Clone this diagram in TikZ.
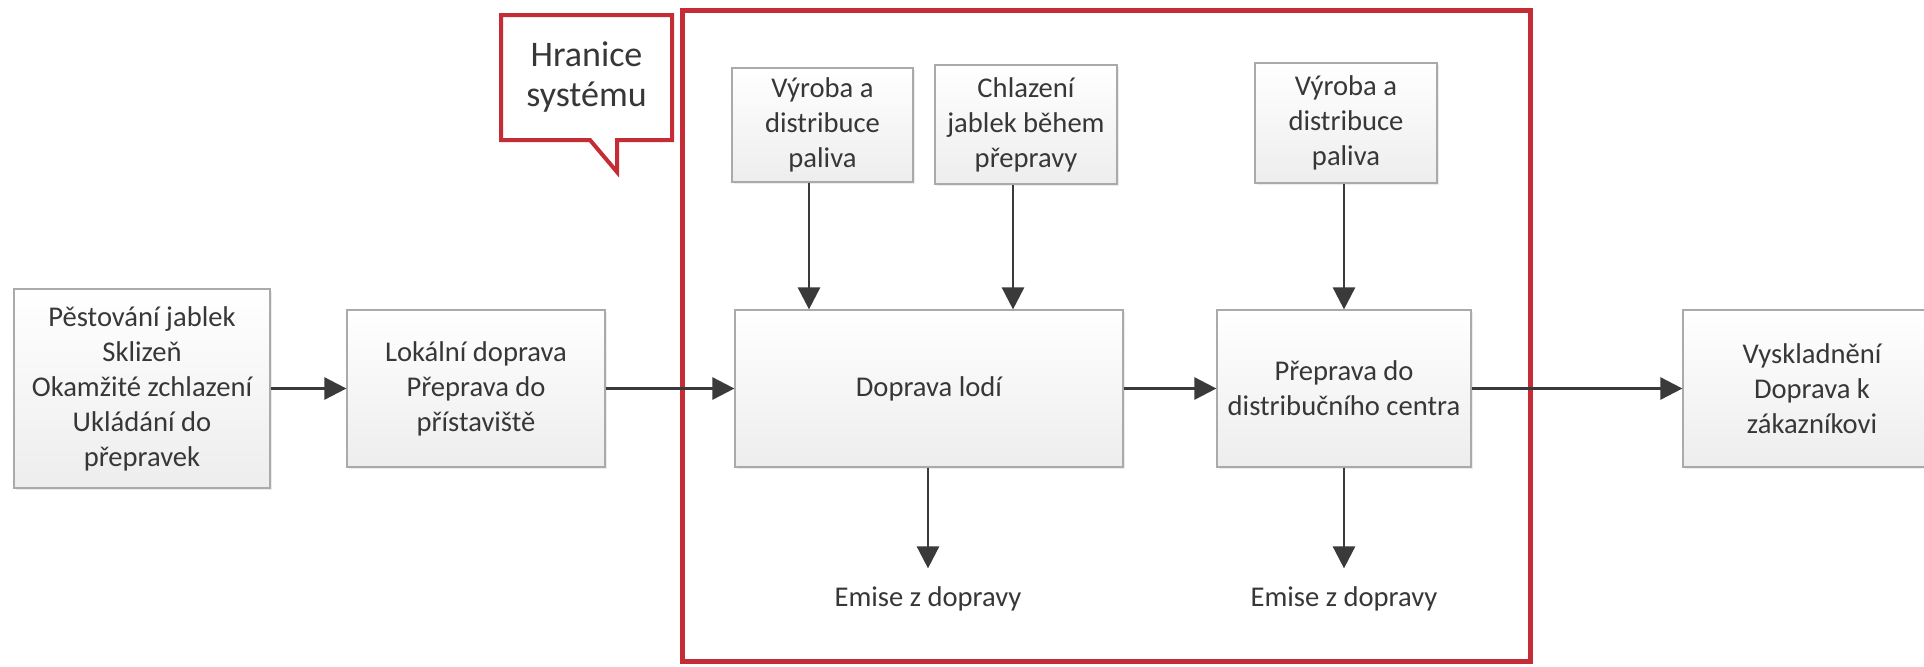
\documentclass[tikz,border=0pt]{standalone}
\usepackage{fontspec}
\setmainfont{Carlito}
\usepackage{xcolor}
\usetikzlibrary{arrows.meta,shadows}

\definecolor{hranice}{RGB}{196,44,54}
\definecolor{sipka}{RGB}{58,58,58}
\definecolor{okraj}{RGB}{170,170,170}
\definecolor{pismo}{RGB}{55,55,55}

\begin{document}
\begin{tikzpicture}[x=0.5pt,y=-0.5pt,>={Triangle[length=11pt,width=11pt]},
    krok/.style={draw=okraj,line width=0.6pt,top color=white,bottom color=white!93!black,
        inner sep=2pt,align=center,text=pismo,font=\fontsize{14.3}{17.5}\selectfont,
        drop shadow={shadow xshift=0.8pt,shadow yshift=-0.8pt,opacity=0.15}},
    tok/.style={->,draw=sipka,line width=1.35pt},
    emise/.style={text=pismo,inner sep=0pt,font=\fontsize{14.3}{17.5}\selectfont}]
    \path[use as bounding box,clip] (0,0) rectangle (1924,666);
    \fill[white] (0,0) rectangle (1924,666);

    % hranice systemu
    \draw[hranice,line width=2.5pt] (682,10) rectangle (1530,661);
    \draw[hranice,line width=2pt,fill=white] (501,15) -- (672,15) -- (672,140) -- (617,140)
        -- (617,172) -- (590,140) -- (501,140) -- cycle;
    \node[text=pismo,align=center,font=\fontsize{18}{20}\selectfont] (popis) at (586.5,77.5) {Hranice\\systému};

    \node[krok,minimum width=128pt,minimum height=99.5pt] (pest) at (142,388.5)
        {Pěstování jablek\\Sklizeň\\Okamžité zchlazení\\Ukládání do\\přepravek};
    \node[krok,minimum width=129pt,minimum height=78.5pt] (lokal) at (476,388.5)
        {Lokální doprava\\Přeprava do\\přístaviště};
    \node[krok,minimum width=90.5pt,minimum height=57pt] (vyroba1) at (822.5,125)
        {Výroba a\\distribuce\\paliva};
    \node[krok,minimum width=91pt,minimum height=59.5pt] (chlaz) at (1026,124.5)
        {Chlazení\\jablek během\\přepravy};
    \node[krok,minimum width=91pt,minimum height=60pt] (vyroba2) at (1346,123)
        {Výroba a\\distribuce\\paliva};
    \node[krok,minimum width=194pt,minimum height=78.5pt] (lod) at (929,388.5) {Doprava lodí};
    \node[krok,minimum width=127pt,minimum height=78.5pt] (preprava) at (1344,388.5)
        {Přeprava do\\distribučního centra};
    \node[krok,minimum width=129pt,minimum height=78.5pt] (vysklad) at (1812,388.5)
        {Vyskladnění\\Doprava k\\zákazníkovi};
    \node[emise] (emise1) at (928,599) {Emise z dopravy};
    \node[emise] (emise2) at (1344,599) {Emise z dopravy};

    \draw[tok] (pest) -- (lokal);
    \draw[tok] (lokal) -- (lod);
    \draw[tok] (lod) -- (preprava);
    \draw[tok] (preprava) -- (vysklad);
    \draw[tok] ([xshift=-6.75pt]vyroba1.south) -- ([xshift=-6.75pt]vyroba1.south |- lod.north);
    \draw[tok] ([xshift=-6.5pt]chlaz.south) -- ([xshift=-6.5pt]chlaz.south |- lod.north);
    \draw[tok] ([xshift=-1pt]vyroba2.south) -- ([xshift=-1pt]vyroba2.south |- preprava.north);
    \draw[tok,shorten >=9pt] (emise1.north |- lod.south) -- (emise1);
    \draw[tok,shorten >=9pt] (preprava) -- (emise2);
\end{tikzpicture}
\end{document}
